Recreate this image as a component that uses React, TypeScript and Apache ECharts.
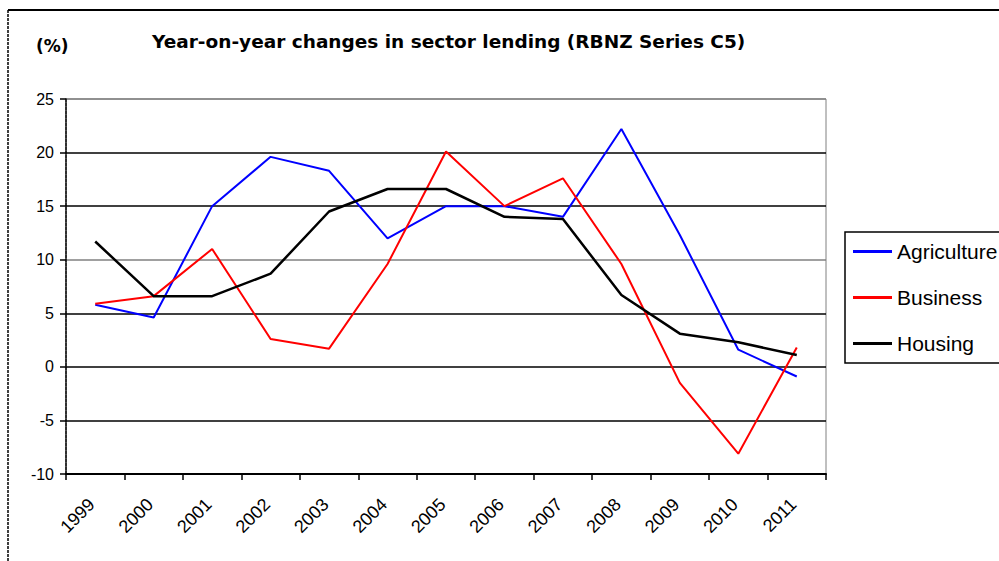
import React, { useEffect, useRef } from "react";
import * as echarts from "echarts";

const years = ["1999", "2000", "2001", "2002", "2003", "2004", "2005", "2006", "2007", "2008", "2009", "2010", "2011"];
const agriculture = [5.8, 4.6, 15.0, 19.6, 18.3, 12.0, 15.0, 15.0, 14.0, 22.2, 12.3, 1.6, -0.9];
const business = [5.9, 6.6, 11.0, 2.6, 1.7, 9.6, 20.1, 15.0, 17.6, 9.6, -1.5, -8.1, 1.8];
const housing = [11.7, 6.6, 6.6, 8.7, 14.5, 16.6, 16.6, 14.0, 13.8, 6.7, 3.1, 2.3, 1.1];

const titleText = "Year-on-year changes in sector lending (RBNZ Series C5)";
const unitText = "(%)";

export default function App() {
  const ref = useRef<HTMLDivElement>(null);
  useEffect(() => {
    document.body.style.margin = "0";
    const chart = echarts.init(ref.current!, null, { renderer: "svg" });
    const font = "Arial, 'Liberation Sans', sans-serif";
    const titleFont = "'DejaVu Sans', Verdana, sans-serif";
    chart.setOption({
      animation: false,
      backgroundColor: "#ffffff",
      title: [
        {
          text: titleText,
          left: 152,
          top: 32,
          padding: 0,
          textStyle: { fontFamily: titleFont, fontSize: 18.5, fontWeight: "bold", color: "#000" },
        },
        {
          text: unitText,
          left: 36,
          top: 37,
          padding: 0,
          textStyle: { fontFamily: titleFont, fontSize: 17, fontWeight: "bold", color: "#000" },
        },
      ],
      graphic: [
        { type: "line", shape: { x1: 8, y1: 10, x2: 999, y2: 10 }, style: { stroke: "#000", lineWidth: 2 } },
        { type: "line", shape: { x1: 8, y1: 10, x2: 8, y2: 561 }, style: { stroke: "#000", lineWidth: 1.5, lineDash: [3, 1] } },
      ],
      legend: {
        orient: "vertical",
        left: 845,
        top: 232,
        padding: [9, 8, 9, 8],
        icon: "rect",
        itemWidth: 39,
        itemHeight: 3,
        itemGap: 25,
        borderColor: "#000",
        borderWidth: 1.5,
        textStyle: { fontFamily: font, fontSize: 21, color: "#000" },
        data: ["Agriculture", "Business", "Housing"],
      },
      grid: {
        left: 66,
        right: 173,
        top: 99,
        bottom: 87,
        show: true,
        borderColor: "#808080",
        borderWidth: 1,
      },
      xAxis: {
        type: "category",
        data: years,
        boundaryGap: true,
        axisLine: { onZero: false, lineStyle: { color: "#000", width: 2 } },
        axisTick: { show: true, interval: 0, length: 6, lineStyle: { color: "#000", width: 1.5 } },
        axisLabel: {
          interval: 0,
          rotate: 45,
          margin: 24,
          fontFamily: font,
          fontSize: 18,
          color: "#000",
          formatter: (v: string) => v + " ",
        },
        splitLine: { show: false },
      },
      yAxis: {
        type: "value",
        min: -10,
        max: 25,
        interval: 5,
        axisLine: { show: true, lineStyle: { color: "#000", width: 1.5, type: [3, 1] } },
        axisTick: { show: true, length: 6, lineStyle: { color: "#000", width: 1.5 } },
        axisLabel: { fontFamily: font, fontSize: 16, color: "#000", margin: 12 },
        splitLine: {
          show: true,
          lineStyle: {
            color: ["#000", "#000", "#000", "#000", "#808080", "#000", "#000", "#808080"],
            width: 1.5,
          },
        },
      },
      series: [
        { name: "Agriculture", type: "line", data: agriculture, symbol: "none", lineStyle: { color: "#0000ff", width: 2 }, itemStyle: { color: "#0000ff" } },
        { name: "Business", type: "line", data: business, symbol: "none", lineStyle: { color: "#ff0000", width: 2 }, itemStyle: { color: "#ff0000" } },
        { name: "Housing", type: "line", data: housing, symbol: "none", lineStyle: { color: "#000000", width: 2.5 }, itemStyle: { color: "#000000" } },
      ],
    });
    return () => chart.dispose();
  }, []);
  return <div ref={ref} style={{ position: "absolute", left: 0, top: 0, width: 999, height: 561 }} />;
}
